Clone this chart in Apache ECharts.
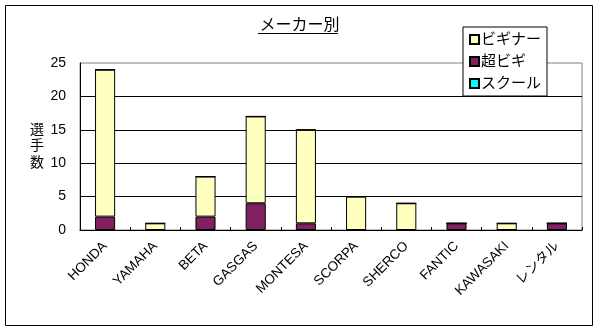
<!DOCTYPE html>
<html><head><meta charset="utf-8">
<script src="https://cdn.jsdelivr.net/npm/echarts@6/dist/echarts.min.js"></script>
<style>html,body{margin:0;padding:0;background:#fff}#c{width:599px;height:331px}</style>
</head><body><div id="c"></div>
<script>
const categories = ['HONDA','YAMAHA','BETA','GASGAS','MONTESA','SCORPA','SHERCO','FANTIC','KAWASAKI','レンタル'];
const beginner = [22, 1, 6, 13, 14, 5, 4, 0, 1, 0];
const superBeginner = [2, 0, 2, 4, 1, 0, 0, 1, 0, 1];
const school = [0, 0, 0, 0, 0, 0, 0, 0, 0, 0];
const yTicks = {min: 0, max: 25, interval: 5};

const FONT = "'Liberation Sans', 'Noto Sans CJK JP', sans-serif";
const chart = echarts.init(document.getElementById('c'));
const barStyle = (c) => ({color: c, borderColor: '#000', borderWidth: 1});
chart.setOption({
  animation: false,
  textStyle: {fontFamily: FONT, color: '#000'},
  title: {
    text: 'メーカー別', left: 'center', top: 13,
    textStyle: {fontSize: 16, fontWeight: 'normal', color: '#000', fontFamily: FONT}
  },
  graphic: [
    {type: 'rect', shape: {x: 5.5, y: 5.5, width: 587, height: 320}, style: {fill: 'none', stroke: '#000', lineWidth: 1}, silent: true},
    {type: 'line', shape: {x1: 258, y1: 33.5, x2: 338, y2: 33.5}, style: {stroke: '#000', lineWidth: 1}}
  ],
  legend: {
    data: ['ビギナー', '超ビギ', 'スクール'],
    orient: 'vertical', left: 463, top: 27,
    backgroundColor: '#fff', borderColor: '#000', borderWidth: 1,
    padding: [5, 6, 5, 6], itemGap: 7,
    itemWidth: 9, itemHeight: 9, icon: 'rect',
    textStyle: {fontSize: 15, color: '#000', fontFamily: FONT, padding: [0, 0, 0, -3]}
  },
  grid: {left: 80, top: 63, right: 17, bottom: 101, show: true, borderColor: '#808080', borderWidth: 1, containLabel: false},
  xAxis: {
    type: 'category', data: categories,
    axisLine: {lineStyle: {color: '#000', width: 1}},
    axisTick: {show: true, inside: true, length: 3, lineStyle: {color: '#000'}},
    axisLabel: {rotate: 45, fontSize: 13.5, color: '#000', margin: 14, interval: 0, fontFamily: FONT},
    splitLine: {show: false}
  },
  yAxis: {
    type: 'value', min: yTicks.min, max: yTicks.max, interval: yTicks.interval,
    name: '選\n手\n数', nameLocation: 'middle', nameRotate: 0, nameGap: 36,
    nameTextStyle: {fontSize: 14, color: '#000', lineHeight: 16.5, fontFamily: FONT, align: 'right'},
    axisLine: {show: true, lineStyle: {color: '#000', width: 1}},
    axisTick: {show: false},
    axisLabel: {fontSize: 14, color: '#000', margin: 14, fontFamily: FONT},
    splitLine: {show: true, showMaxLine: false, lineStyle: {color: '#000', width: 1}}
  },
  series: [
    {name: '超ビギ', type: 'bar', stack: 't', data: superBeginner, barWidth: '40%', itemStyle: barStyle('#802060')},
    {name: 'ビギナー', type: 'bar', stack: 't', data: beginner, barWidth: '40%', itemStyle: barStyle('#FFFFC0')},
    {name: 'スクール', type: 'bar', stack: 't', data: school, barWidth: '40%', itemStyle: barStyle('#00FFFF')}
  ]
});
</script></body></html>
